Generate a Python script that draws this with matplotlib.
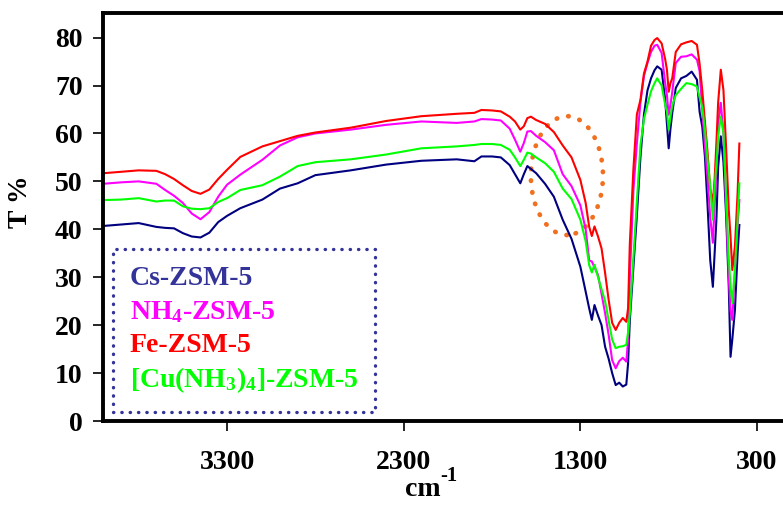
import numpy as np
import matplotlib.pyplot as plt
from matplotlib.patches import Ellipse
from matplotlib.lines import Line2D

plt.rcParams['font.family'] = ['Liberation Serif', 'DejaVu Serif']
plt.rcParams['font.weight'] = 'bold'
plt.rcParams['mathtext.fontset'] = 'custom'
plt.rcParams['mathtext.rm'] = 'Liberation Serif:bold'
plt.rcParams['mathtext.it'] = 'Liberation Serif:bold'
plt.rcParams['mathtext.bf'] = 'Liberation Serif:bold'

# wavenumber grid (cm-1) shared by all spectra
wavenumber = [4000, 3900, 3800, 3700, 3650, 3600, 3550, 3500, 3450, 3400, 3350, 3300,
              3225, 3100, 3000, 2900, 2800, 2600, 2400, 2200, 2000, 1900, 1860, 1800,
              1750, 1700, 1670, 1640, 1620, 1600, 1580, 1550, 1500, 1450, 1400, 1350,
              1300, 1270, 1250, 1235, 1220, 1200, 1180, 1160, 1140, 1120, 1100, 1080,
              1060, 1040, 1030, 1020, 1000, 980, 960, 940, 920, 900, 880, 865, 840,
              820, 810, 800, 790, 780, 760, 730, 700, 670, 640, 625, 610, 595, 580,
              565, 550, 540, 530, 520, 505, 490, 475, 460, 450, 440, 425, 410, 400]

t_cs = [40.7, 41.0, 41.3, 40.5, 40.3, 40.2, 39.2, 38.5, 38.3, 39.3, 41.5, 42.8,
        44.4, 46.2, 48.5, 49.6, 51.3, 52.3, 53.5, 54.3, 54.6, 54.2, 55.2, 55.2,
        55.0, 53.4, 51.5, 49.6, 51.5, 53.2, 52.6, 51.7, 49.5, 46.8, 42.0, 38.0,
        32.2, 27.0, 23.5, 21.1, 24.2, 22.0, 20.0, 15.5, 13.0, 10.0, 7.5, 8.0,
        7.2, 7.6, 12.0, 21.0, 32.0, 43.0, 55.0, 64.0, 69.0, 71.5, 73.2, 74.0, 73.3,
        67.0, 62.0, 56.9, 61.0, 64.2, 69.5, 71.5, 72.0, 72.9, 71.2, 64.5, 61.4, 55.2, 45.0,
        33.6, 28.0, 35.0, 42.0, 53.0, 59.4, 54.0, 43.0, 28.0, 13.4, 17.0, 23.2, 35.0, 40.9]

t_nh4 = [49.5, 49.8, 50.0, 49.5, 48.2, 47.0, 45.5, 43.3, 42.1, 43.6, 46.8, 49.3,
         51.4, 54.5, 57.5, 59.2, 60.0, 60.8, 61.8, 62.5, 62.2, 62.5, 63.0, 62.9,
         62.7, 61.0, 58.7, 56.2, 58.0, 60.4, 60.5, 59.5, 58.2, 56.5, 51.5, 49.0,
         45.0, 40.0, 33.5, 33.3, 32.0, 30.5, 26.5, 22.5, 18.0, 12.7, 11.0, 12.5,
         13.2, 12.4, 16.9, 30.0, 48.0, 58.0, 66.5, 72.0, 74.7, 77.0, 78.3, 78.5, 76.8,
         70.5, 68.0, 63.9, 66.0, 68.6, 74.7, 76.0, 76.1, 76.5, 75.4, 73.0, 65.0, 57.5, 50.5,
         42.5, 37.2, 45.0, 52.0, 62.0, 66.4, 60.0, 45.0, 30.0, 23.0, 21.1, 31.5, 41.0, 46.1]

t_fe = [51.7, 52.0, 52.3, 52.2, 51.5, 50.5, 49.2, 48.0, 47.4, 48.3, 50.5, 52.4,
        55.1, 57.3, 58.4, 59.5, 60.2, 61.2, 62.6, 63.6, 64.1, 64.3, 64.9, 64.8,
        64.6, 63.5, 62.5, 60.8, 61.5, 63.2, 63.5, 62.8, 62.0, 60.3, 57.5, 55.0,
        50.3, 45.5, 40.5, 38.6, 40.6, 38.5, 36.0, 30.9, 25.3, 20.5, 19.0, 20.5,
        21.5, 20.7, 23.5, 37.0, 52.4, 64.0, 67.0, 72.5, 75.0, 78.3, 79.5, 79.9, 78.8,
        75.5, 73.3, 68.7, 70.5, 71.5, 77.0, 78.6, 79.0, 79.3, 78.5, 74.5, 69.0, 62.5, 56.0,
        48.5, 45.5, 50.5, 58.0, 66.5, 73.3, 69.0, 57.0, 44.0, 38.5, 31.5, 36.5, 47.6, 57.9]

t_cu = [46.1, 46.2, 46.5, 45.8, 46.0, 46.0, 44.8, 44.3, 44.2, 44.4, 45.7, 46.5,
        48.2, 49.2, 51.0, 53.2, 54.0, 54.6, 55.6, 56.9, 57.3, 57.6, 57.8, 57.8,
        57.6, 56.6, 55.0, 53.2, 54.5, 56.0, 55.8, 55.0, 53.8, 52.0, 48.5, 46.3,
        42.0, 37.5, 32.5, 31.0, 32.6, 30.0, 27.5, 25.0, 21.0, 17.0, 15.2, 15.5,
        15.6, 15.9, 18.5, 22.5, 34.0, 46.0, 57.5, 63.0, 66.0, 68.8, 70.5, 71.5, 70.0,
        66.0, 64.5, 60.8, 63.5, 65.8, 68.0, 69.3, 70.5, 70.3, 69.8, 67.5, 65.5, 60.8, 54.5,
        49.0, 42.0, 49.0, 53.5, 59.5, 63.5, 60.0, 47.0, 34.0, 28.0, 24.6, 31.5, 42.0, 49.6]

labels = ['Cs-ZSM-5', r'NH$_4$-ZSM-5', 'Fe-ZSM-5', r'[Cu(NH$_3$)$_4$]-ZSM-5']
line_colors = ['#000080', '#FF00FF', '#FF0000', '#00FF00']
text_colors = ['#333399', '#FF00FF', '#FF0000', '#00FF00']

fig = plt.figure(figsize=(7.83, 5.05), dpi=100)
ax = fig.add_axes([0.132, 0.1663, 0.868, 0.8086])

for t, c in zip([t_cs, t_nh4, t_fe, t_cu], line_colors):
    ax.plot(wavenumber, t, color=c, lw=1.5)

ax.set_xlim(4000, 153)
ax.set_ylim(0, 85.2)
ax.set_xticks([3300, 2300, 1300, 300])
ax.set_yticks(range(0, 81, 10))
ax.tick_params(axis='both', direction='out', length=7, width=1.2, labelsize=20, pad=8)
ax.tick_params(axis='x', pad=14)
for lab in ax.get_xticklabels() + ax.get_yticklabels():
    lab.set_fontweight('bold')

for s in ['left', 'top', 'bottom']:
    ax.spines[s].set_linewidth(2.8)
ax.spines['right'].set_visible(False)

ax.set_ylabel('T %', fontsize=20, fontweight='bold')
ax.yaxis.set_label_coords(-0.104, 0.537)

# x axis title: "cm" with a raised "-1"
fig.text(0.517, 0.018, 'cm', fontsize=20, fontweight='bold', va='baseline', ha='left')
fig.text(0.5625, 0.047, '-1', fontsize=15, fontweight='bold', va='baseline', ha='left')

# dotted orange ring around the shoulder
ring = Ellipse((1376, 51.2), 408, 24.8, fill=False, edgecolor='#F07020',
               lw=3.4, linestyle=(0, (0.1, 2.4)))
ring.set_capstyle('round')
ax.add_patch(ring)

handles = [Line2D([], [], color=c, lw=0) for c in line_colors]
leg = ax.legend(handles, labels, loc='lower left', bbox_to_anchor=(0.014, 0.022),
                borderaxespad=0, handlelength=0, handletextpad=0,
                labelspacing=0.28, borderpad=0.6, fancybox=False,
                prop={'weight': 'bold', 'size': 20})
for txt, c in zip(leg.get_texts(), text_colors):
    txt.set_color(c)
frame = leg.get_frame()
frame.set_edgecolor('#000080')
frame.set_linewidth(2.4)
frame.set_linestyle((0, (0.1, 2.4)))
frame.set_capstyle('round')

fig.savefig('out.png', dpi=100)
